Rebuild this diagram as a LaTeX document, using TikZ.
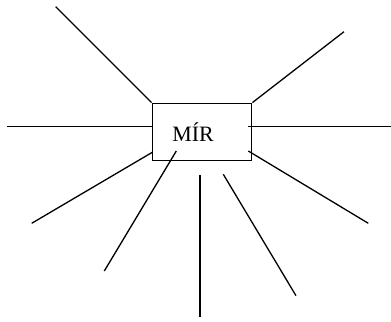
\documentclass[tikz,border=0pt]{standalone}
\usepackage{fontspec}
\setmainfont{Liberation Serif}
\usetikzlibrary{calc}

\begin{document}
\begin{tikzpicture}[x=1bp,y=-1bp,line width=1.3bp,
    ray/.style={draw,line width=1.3bp},
    box/.style={draw,line width=1.3bp,minimum width=99.5bp,minimum height=57.5bp,inner sep=0pt,
      font=\fontsize{22}{26}\selectfont}]
        \useasboundingbox (0,0) rectangle (391,322);
        \node[box] (mir) at (202,132) {MÍR\hspace*{18bp}};
        % free ends of the rays
        \coordinate (ul) at (55.7,6.7);
        \coordinate (l)  at (7.3,126.7);
        \coordinate (ur) at (344,31.7);
        \coordinate (rin) at (248.3,126.7);
        \coordinate (r)  at (391,126.7);
        \coordinate (ll) at (31.7,223.3);
        \coordinate (lle) at (152.3,152.3);
        \coordinate (din) at (176.3,151);
        \coordinate (d)  at (104.3,271);
        \coordinate (vt) at (200,175);
        \coordinate (vb) at (200,317);
        \coordinate (dt) at (223.3,174.3);
        \coordinate (db) at (296,295.7);
        \coordinate (lrin) at (248.3,151);
        \coordinate (lr) at (368.3,223.3);
        \draw[ray] (ul) -- (mir.north west);
        \draw[ray] (l) -- (mir.west |- l);
        \draw[ray] (ur) -- (mir.north east);
        \draw[ray] (rin) -- (r);
        \draw[ray] (ll) -- (lle);
        \draw[ray] (din) -- (d);
        \draw[ray] (vt) -- (vb);
        \draw[ray] (dt) -- (db);
        \draw[ray] (lrin) -- (lr);
      \end{tikzpicture}
\end{document}
